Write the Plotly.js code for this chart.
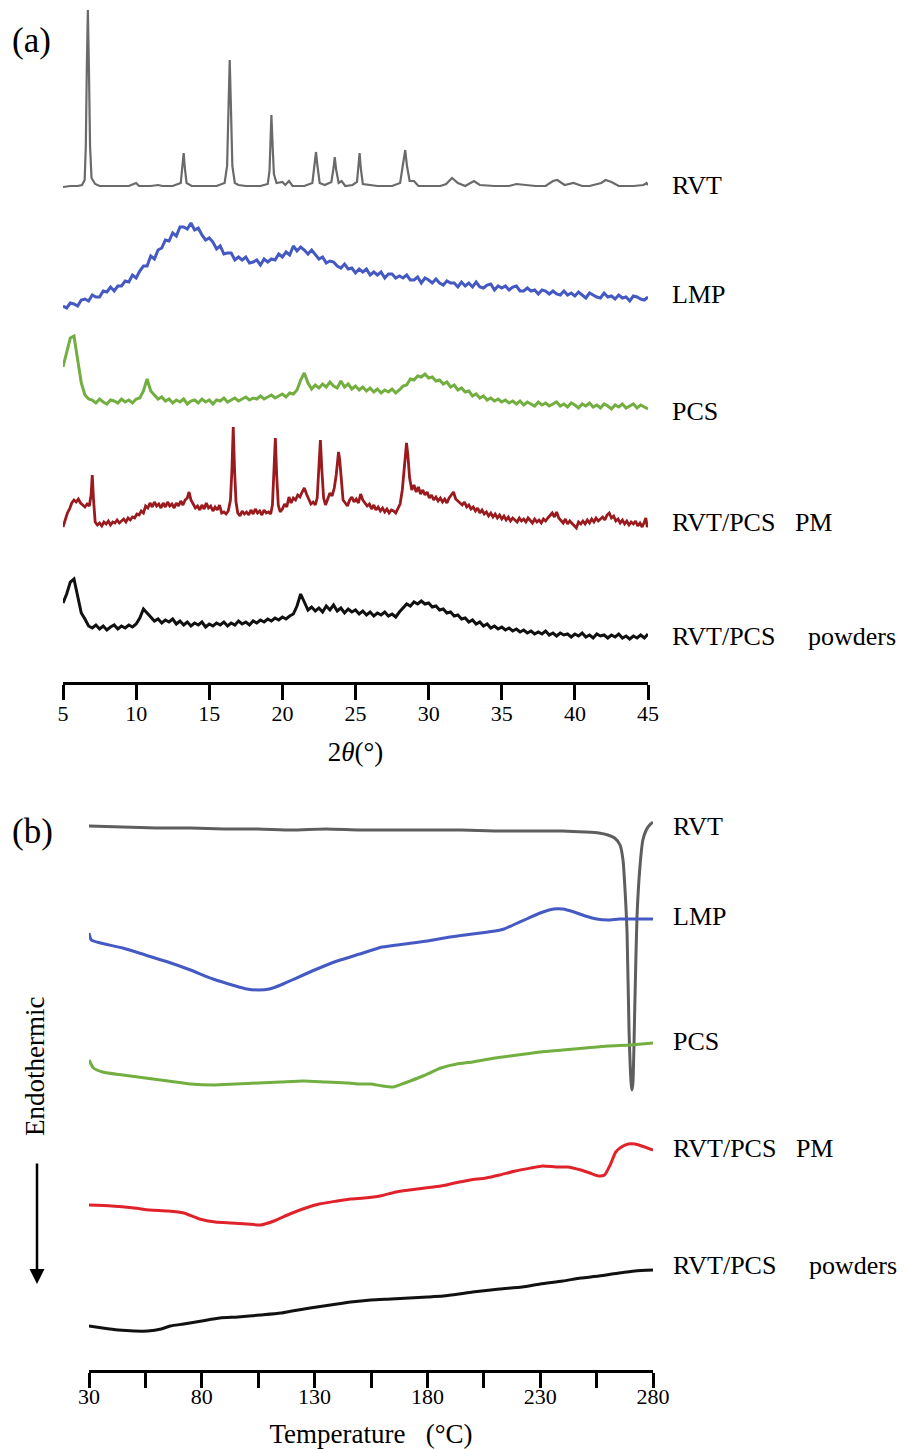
<!DOCTYPE html>
<html><head><meta charset="utf-8">
<script src="https://cdn.plot.ly/plotly-3.0.1.min.js"></script>
<style>html,body{margin:0;padding:0;background:#fff}</style>
</head><body><div id="chart" style="width:906px;height:1449px"></div>
<script>
// ---------- (a) XRD data: 2θ (deg) vs relative intensity (a.u.) ----------
const scanStart = 5, scanStep = 0.25;
const xrdTicks = [5,10,15,20,25,30,35,40,45];

// RVT: [2θ, intensity]
const rvtXrd = [[5.0,-1],[5.5,0],[6.0,0],[6.3,1],[6.48,6],[6.56,40],[6.63,120],[6.7,176],[6.77,120],[6.85,40],[6.95,8],[7.2,2],[7.5,0],[8.5,0],[9.5,0],[10.0,3],[10.2,0],[11.0,0],[11.5,1],[11.8,0],[12.5,0],[13.05,3],[13.17,18],[13.25,33],[13.33,18],[13.45,3],[13.8,0],[14.5,0],[15.5,0],[16.05,3],[16.22,20],[16.32,80],[16.4,126],[16.48,80],[16.58,20],[16.75,3],[17.0,1],[17.5,0],[18.5,0],[19.0,2],[19.12,15],[19.19,45],[19.25,71],[19.32,45],[19.42,12],[19.6,3],[20.0,4],[20.2,1],[20.45,5],[20.7,0],[21.5,0],[22.05,3],[22.2,20],[22.3,34],[22.4,20],[22.55,3],[22.9,1],[23.35,4],[23.5,18],[23.58,29],[23.68,16],[23.85,3],[24.05,5],[24.3,0],[24.8,1],[25.1,4],[25.2,20],[25.28,33],[25.36,18],[25.5,2],[26.5,0],[27.5,0],[28.05,3],[28.28,22],[28.4,36],[28.52,20],[28.7,5],[29.0,5],[29.3,0],[30.0,0],[30.8,0],[31.2,2],[31.6,8],[32.0,3],[32.5,0],[33.1,5],[33.5,1],[34.5,0],[35.5,0],[36.0,2],[36.5,1],[37.3,0],[38.0,0],[38.5,5],[38.8,6],[39.3,1],[39.9,3],[40.5,0],[41.0,0],[41.8,3],[42.1,6],[42.5,4],[43.0,0],[44.0,0],[44.7,1],[44.9,3],[45.0,1]];

// LMP, PCS, RVT/PCS powders: intensities on the 0.25° scan grid from 5° to 45°
const lmpXrd = [4,2,7,6,4,10,11,9,15,13,13,19,18,23,19,24,24,29,28,35,32,39,44,44,54,51,60,62,70,69,77,74,83,83,81,87,80,82,75,70,72,68,61,64,56,57,57,50,53,50,53,47,48,50,45,51,48,51,50,56,53,58,55,64,59,63,60,56,60,56,51,53,47,49,48,44,42,46,41,42,37,41,38,41,35,38,35,38,32,36,36,32,34,32,35,30,30,33,27,32,30,27,31,27,25,29,27,27,23,28,24,27,23,28,23,22,25,26,20,24,22,24,20,23,24,19,19,22,19,20,16,20,19,16,19,16,15,19,15,17,14,18,15,12,17,15,13,12,17,13,14,11,15,12,13,9,14,13,11,10,13];
const pcsXrd = [43,57,72,74,52,27,15,11,10,7,11,8,6,10,9,7,11,8,10,7,11,12,19,31,19,15,11,13,9,11,7,10,8,11,6,9,10,7,11,8,10,6,10,9,12,8,10,12,9,11,13,10,12,11,14,11,13,15,12,14,16,13,17,16,20,30,37,27,21,25,22,26,23,28,24,22,29,23,26,21,24,20,23,19,22,18,21,17,20,18,21,17,20,24,25,31,30,34,33,36,32,33,29,30,26,28,23,25,20,22,18,19,14,16,12,14,10,12,9,11,8,10,7,9,6,9,5,8,6,4,8,5,7,4,6,8,4,6,3,7,5,2,6,4,7,3,5,2,6,4,1,5,3,6,2,4,6,2,5,3,1];
const powXrd = [37,46,58,61,44,27,21,14,12,15,11,14,10,13,15,11,14,12,15,13,16,22,31,27,23,19,21,17,20,18,21,16,19,15,18,14,17,15,18,13,16,14,17,15,18,14,17,15,19,16,18,15,19,17,20,18,21,19,22,20,23,21,24,26,34,46,38,30,33,29,32,28,34,30,35,29,32,27,31,28,30,26,29,25,28,24,27,25,28,24,26,23,28,32,36,34,38,36,39,36,37,33,34,30,31,27,28,24,25,21,22,18,20,16,18,14,16,12,14,11,13,10,12,9,11,8,10,7,9,6,8,6,9,5,7,4,7,5,6,3,6,4,7,3,5,2,6,4,5,2,5,3,6,2,4,1,4,2,5,2,6];

// RVT/PCS PM: [2θ, intensity]
const pmXrd = [[5.00,3],[5.15,10],[5.30,17],[5.45,21],[5.60,27],[5.75,30],[5.90,28],[6.05,31],[6.20,27],[6.35,25],[6.50,23],[6.65,26],[6.80,24],[6.92,35],[7.00,55],[7.08,32],[7.20,8],[7.35,5],[7.50,7],[7.65,4],[7.80,8],[7.95,6],[8.10,9],[8.25,5],[8.40,8],[8.55,7],[8.70,10],[8.85,7],[9.00,9],[9.15,11],[9.30,8],[9.45,12],[9.60,10],[9.75,13],[9.90,12],[10.05,16],[10.20,15],[10.35,19],[10.50,17],[10.65,24],[10.80,22],[10.95,27],[11.10,23],[11.25,28],[11.40,24],[11.55,26],[11.70,22],[11.85,27],[12.00,23],[12.15,28],[12.30,24],[12.45,26],[12.60,22],[12.75,27],[12.90,24],[13.05,29],[13.20,25],[13.35,30],[13.50,32],[13.62,38],[13.75,30],[13.90,26],[14.05,22],[14.20,24],[14.35,20],[14.50,25],[14.65,21],[14.80,27],[14.95,22],[15.10,24],[15.25,19],[15.40,23],[15.55,20],[15.70,25],[15.85,17],[16.00,18],[16.15,16],[16.30,19],[16.45,30],[16.55,60],[16.64,103],[16.73,60],[16.83,28],[16.95,17],[17.10,14],[17.25,19],[17.40,16],[17.55,18],[17.70,15],[17.85,20],[18.00,16],[18.15,21],[18.30,17],[18.45,19],[18.60,15],[18.75,20],[18.90,17],[19.05,18],[19.20,16],[19.32,25],[19.43,55],[19.52,92],[19.61,55],[19.72,25],[19.85,18],[20.00,21],[20.15,26],[20.30,23],[20.45,33],[20.60,27],[20.75,32],[20.90,30],[21.05,35],[21.20,33],[21.35,38],[21.50,42],[21.65,36],[21.80,31],[21.95,26],[22.10,28],[22.25,25],[22.38,32],[22.50,60],[22.60,90],[22.70,60],[22.82,32],[22.95,25],[23.10,31],[23.25,37],[23.40,34],[23.55,42],[23.68,55],[23.77,70],[23.84,78],[23.92,70],[24.02,50],[24.15,30],[24.30,27],[24.45,24],[24.60,30],[24.75,33],[24.90,28],[25.05,31],[25.20,27],[25.35,36],[25.50,30],[25.65,27],[25.80,24],[25.95,26],[26.10,21],[26.25,25],[26.40,20],[26.55,23],[26.70,19],[26.85,22],[27.00,18],[27.15,21],[27.30,17],[27.45,20],[27.60,19],[27.75,17],[27.90,22],[28.05,26],[28.20,40],[28.32,60],[28.42,80],[28.49,87],[28.58,75],[28.70,52],[28.85,40],[29.00,45],[29.15,38],[29.30,43],[29.45,36],[29.60,40],[29.75,35],[29.90,38],[30.05,32],[30.20,35],[30.35,30],[30.50,33],[30.65,29],[30.80,32],[30.95,28],[31.10,31],[31.25,27],[31.40,32],[31.55,35],[31.70,38],[31.85,31],[32.00,29],[32.15,27],[32.30,25],[32.45,28],[32.60,23],[32.75,25],[32.90,21],[33.05,23],[33.20,19],[33.35,22],[33.50,17],[33.65,20],[33.80,16],[33.95,18],[34.10,14],[34.25,17],[34.40,13],[34.55,16],[34.70,12],[34.85,15],[35.00,11],[35.15,14],[35.30,10],[35.45,13],[35.60,9],[35.75,12],[35.90,10],[36.05,8],[36.20,12],[36.35,9],[36.50,11],[36.65,8],[36.80,12],[36.95,9],[37.10,7],[37.25,11],[37.40,8],[37.55,10],[37.70,7],[37.85,11],[38.00,9],[38.15,12],[38.30,14],[38.45,17],[38.60,13],[38.75,18],[38.90,12],[39.05,10],[39.20,7],[39.35,11],[39.50,6],[39.65,9],[39.80,7],[39.95,4],[40.10,2],[40.25,8],[40.40,6],[40.55,9],[40.70,6],[40.85,10],[41.00,7],[41.15,11],[41.30,8],[41.45,12],[41.60,9],[41.75,11],[41.90,13],[42.05,10],[42.20,15],[42.35,17],[42.50,12],[42.65,14],[42.80,9],[42.95,11],[43.10,7],[43.25,10],[43.40,6],[43.55,9],[43.70,5],[43.85,8],[44.00,6],[44.15,9],[44.30,4],[44.45,7],[44.60,3],[44.75,8],[44.85,12],[44.95,3],[45.00,5]];

// ---------- (b) DSC data: temperature (°C) vs relative heat flow (a.u.) ----------
const dscTicks = [30,55,80,105,130,155,180,205,230,255,280];
const dscTickText = ['30','','80','','130','','180','','230','','280'];
const rvtDsc = [[30,0],[45,-1],[60,-2],[75,-2],[90,-3],[105,-3],[120,-4],[135,-3],[150,-4],[165,-4],[180,-4],[195,-4],[210,-5],[225,-5],[240,-5],[250,-6],[256,-7],[260,-9],[263,-12],[265.4,-19],[266.7,-34],[267.6,-64],[268.5,-107],[269.4,-207],[270.3,-257],[270.7,-264],[271.1,-257],[272.0,-174],[272.9,-91],[274.2,-41],[275.5,-14],[277.0,-4],[278.5,1],[279.5,3],[280,4]];
const lmpDsc = [[30,0],[31,-7],[35,-10],[45,-15],[55,-22],[65,-29],[75,-37],[85,-46],[95,-53],[100,-56],[105,-57],[110,-56],[115,-52],[120,-47],[130,-37],[140,-28],[150,-21],[160,-14],[170,-11],[180,-8],[190,-4],[200,-1],[210,2],[214,4],[218,8],[224,14],[230,20],[236,24],[240,24],[245,21],[250,17],[255,14],[260,13],[265,14],[270,14],[280,14]];
const pcsDsc = [[30,0],[32,-8],[36,-12],[45,-15],[55,-18],[65,-21],[75,-24],[85,-25],[95,-24],[105,-23],[115,-22],[125,-21],[135,-22],[145,-23],[150,-24],[155,-24],[160,-26],[165,-27],[170,-23],[178,-16],[186,-8],[193,-4],[200,-2],[210,2],[220,5],[230,8],[240,10],[250,12],[260,14],[270,15],[280,17]];
const pmDsc = [[30,0],[40,-1],[50,-3],[57,-5],[65,-6],[72,-8],[79,-14],[86,-17],[93,-18],[100,-19],[106,-20],[112,-16],[119,-9],[126,-3],[132,1],[140,4],[146,6],[152,7],[159,9],[166,13],[172,15],[179,17],[186,19],[192,22],[199,25],[206,27],[212,30],[219,34],[226,37],[231,39],[237,38],[242,38],[248,35],[252,32],[256,29],[258.5,30],[261,40],[263.5,53],[266,58],[269,61],[272,61],[275,59],[280,55]];
const powDsc = [[30,0],[36,-2],[43,-4],[50,-5],[56,-5],[62,-3],[66,0],[72,2],[80,5],[88,8],[96,9],[106,11],[115,13],[120,15],[128,18],[137,21],[146,24],[155,26],[164,27],[172,28],[180,29],[187,30],[194,32],[200,34],[212,37],[222,39],[230,42],[240,45],[248,48],[256,50],[265,53],[272,55],[280,56]];

const sampleNames = ['RVT','LMP','PCS','RVT/PCS\u00a0\u00a0\u00a0PM','RVT/PCS\u00a0\u00a0\u00a0\u00a0\u00a0powders'];
const xrdColors = ['#6a6a6a','#4459c2','#72ae40','#9a1a1e','#111111'];
const dscColors = ['#5e5e5e','#4459c2','#72ae40','#e0232a','#111111'];
const xrdOffsets = [496,372,272,152,42];
const dscOffsets = [544,437,310,165,44];

// ---------- build ----------
const W = 906, H = 1449;
const FONT = 'Liberation Serif';
const grid = n => Array.from({length:n}, (_, i) => scanStart + scanStep * i);

const traces = [];
function pairTrace(pairs, off, color, width, xa, ya, shape) {
  traces.push({x: pairs.map(p => p[0]), y: pairs.map(p => p[1] + off), mode: 'lines', xaxis: xa, yaxis: ya,
    line: {color: color, width: width, shape: shape || 'linear', smoothing: 0.6}, hoverinfo: 'skip', showlegend: false});
}
function gridTrace(vals, off, color, width) {
  traces.push({x: grid(vals.length), y: vals.map(v => v + off), mode: 'lines', xaxis: 'x', yaxis: 'y',
    line: {color: color, width: width}, hoverinfo: 'skip', showlegend: false});
}
pairTrace(rvtXrd, xrdOffsets[0], xrdColors[0], 2.2, 'x', 'y');
gridTrace(lmpXrd, xrdOffsets[1], xrdColors[1], 3);
gridTrace(pcsXrd, xrdOffsets[2], xrdColors[2], 3);
pairTrace(pmXrd, xrdOffsets[3], xrdColors[3], 2.8, 'x', 'y');
gridTrace(powXrd, xrdOffsets[4], xrdColors[4], 3);

[rvtDsc, lmpDsc, pcsDsc, pmDsc, powDsc].forEach((d, i) =>
  pairTrace(d, dscOffsets[i], dscColors[i], 3, 'x2', 'y2', 'spline'));

const axisCommon = {showline: true, linewidth: 3, linecolor: '#000', ticks: 'outside', ticklen: 15, tickwidth: 3,
  tickcolor: '#000', showgrid: false, zeroline: false, fixedrange: true,
  tickfont: {family: FONT, size: 22, color: '#000'}};

const ann = [];
function label(text, xpx, ypx, size, extra) {
  ann.push(Object.assign({text: text, xref: 'paper', yref: 'paper', x: xpx / W, y: 1 - ypx / H,
    xanchor: 'left', yanchor: 'middle', showarrow: false, font: {family: FONT, size: size, color: '#000'}}, extra || {}));
}
const xrdLabelY = [186, 294, 411, 522, 636];
const dscLabelY = [826, 916, 1041, 1148, 1265];
sampleNames.forEach((n, i) => { label(n, 670, xrdLabelY[i], 26); label(n, 671, dscLabelY[i], 26); });
label('(a)', 10, 40, 35);
label('(b)', 10, 832, 35);
ann.push({text: 'Endothermic', xref: 'paper', yref: 'paper', x: 35 / W, y: 1 - 1067 / H, textangle: -90,
  xanchor: 'center', yanchor: 'middle', showarrow: false, font: {family: FONT, size: 27, color: '#000'}});
ann.push({text: '', xref: 'paper', yref: 'paper', x: 37 / W, y: 1 - 1284 / H, ax: 0, ay: -122,
  showarrow: true, arrowhead: 2, arrowsize: 1.2, arrowwidth: 2.5, arrowcolor: '#000'});

const layout = {
  width: W, height: H, margin: {l: 0, r: 0, t: 0, b: 0}, paper_bgcolor: '#fff', plot_bgcolor: 'rgba(0,0,0,0)',
  showlegend: false,
  xaxis: Object.assign({}, axisCommon, {domain: [63 / W, 648 / W], range: [5, 45], anchor: 'y', tickvals: xrdTicks,
    ticklabelstandoff: -5,
    title: {text: '2<i>θ</i>(°)', font: {family: FONT, size: 27, color: '#000'}, standoff: 17}}),
  yaxis: {domain: [1 - 682 / H, 1], range: [0, 682], visible: false, fixedrange: true},
  xaxis2: Object.assign({}, axisCommon, {domain: [89 / W, 653 / W], range: [30, 280], anchor: 'y2', tickvals: dscTicks,
    ticktext: dscTickText, ticklabelstandoff: -10,
    title: {text: 'Temperature\u00a0\u00a0\u00a0(°C)', font: {family: FONT, size: 27, color: '#000'}, standoff: 16}}),
  yaxis2: {domain: [1 - 1370 / H, 1 - 800 / H], range: [0, 570], visible: false, fixedrange: true},
  annotations: ann
};
Plotly.newPlot('chart', traces, layout, {displayModeBar: false, staticPlot: true});
</script></body></html>
